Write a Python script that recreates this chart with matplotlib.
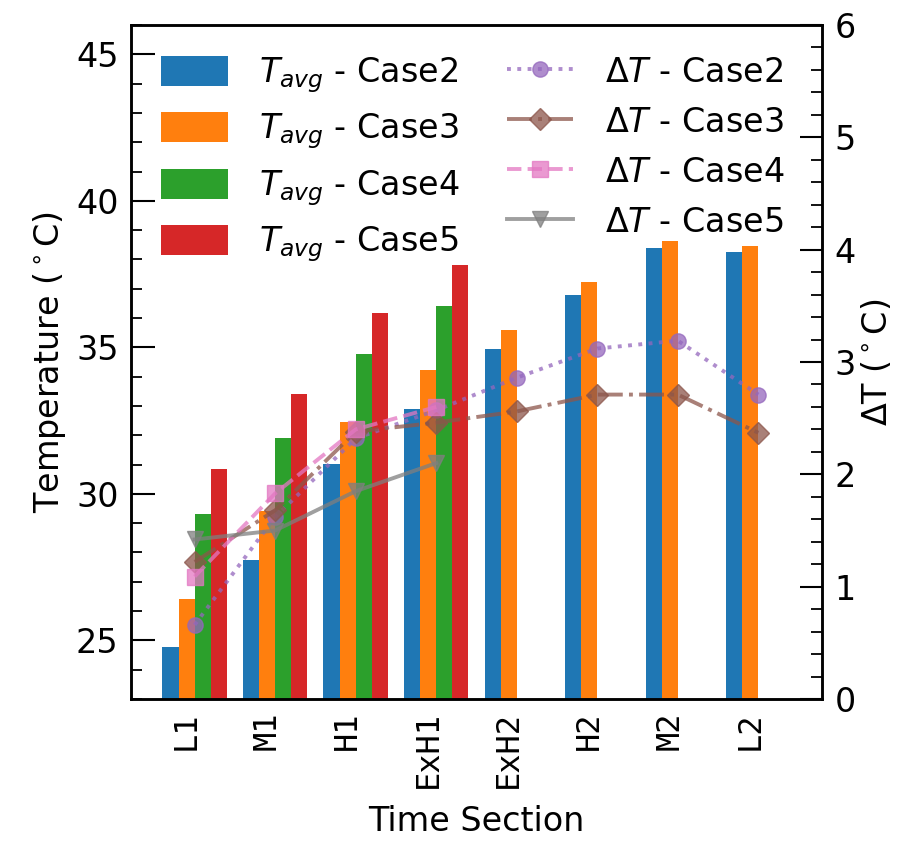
import numpy as np
import matplotlib
matplotlib.use("Agg")
import matplotlib.pyplot as plt
from matplotlib.ticker import MultipleLocator

plt.rcParams['font.family'] = ['DejaVu Sans']
plt.rcParams['mathtext.fontset'] = 'dejavusans'

sections = ["L1", "M1", "H1", "ExH1", "ExH2", "H2", "M2", "L2"]

# Average temperature per case (degC); cases 4 and 5 stop after ExH1
tavg_case2 = [24.77, 27.75, 31.01, 32.88, 34.95, 36.80, 38.40, 38.25]
tavg_case3 = [26.40, 29.42, 32.44, 34.24, 35.60, 37.23, 38.62, 38.46]
tavg_case4 = [29.32, 31.90, 34.78, 36.41, np.nan, np.nan, np.nan, np.nan]
tavg_case5 = [30.84, 33.42, 36.17, 37.80, np.nan, np.nan, np.nan, np.nan]

# Temperature difference per case (degC)
dT_case2 = [0.66, 1.62, 2.32, 2.57, 2.86, 3.12, 3.19, 2.71]
dT_case3 = [1.22, 1.68, 2.38, 2.46, 2.56, 2.71, 2.71, 2.37]
dT_case4 = [1.09, 1.83, 2.40, 2.60, np.nan, np.nan, np.nan, np.nan]
dT_case5 = [1.42, 1.50, 1.85, 2.10, np.nan, np.nan, np.nan, np.nan]

case_names = ["Case2", "Case3", "Case4", "Case5"]
bar_colors = ["tab:blue", "tab:orange", "tab:green", "tab:red"]
line_colors = ["tab:purple", "tab:brown", "tab:pink", "tab:gray"]
line_styles = [":", "-.", "--", "-"]
markers = ["o", "D", "s", "v"]

FS = 24
fig = plt.figure(figsize=(8.99, 8.51), dpi=100)
ax = fig.add_axes([131 / 899, 1 - 699 / 851, 691 / 899, 674 / 851])
ax2 = ax.twinx()

x = np.arange(len(sections))
w = 0.2
handles = []
for i, (vals, c, name) in enumerate(zip([tavg_case2, tavg_case3, tavg_case4, tavg_case5],
                                         bar_colors, case_names)):
    h = ax.bar(x + (i - 1) * w, vals, width=w, color=c,
               label=r"$T_{avg}$ - " + name)
    handles.append(h)

for vals, c, ls, m, name in zip([dT_case2, dT_case3, dT_case4, dT_case5],
                                line_colors, line_styles, markers, case_names):
    h, = ax2.plot(x + 0.1, vals, color=c, ls=ls, marker=m, lw=2.8, ms=11,
                  alpha=0.75, label=r"$\Delta T$ - " + name)
    handles.append(h)

ax.set_xlim(-0.69, 7.89)
ax.set_ylim(23, 46)
ax2.set_ylim(0, 6)

ax.set_xticks(x)
ax.set_xticklabels(sections, rotation=90, fontsize=23, family='DejaVu Sans Mono')
ax.tick_params(axis='x', length=0, pad=9)
ax.yaxis.set_major_locator(MultipleLocator(5))
ax.yaxis.set_minor_locator(MultipleLocator(1))
ax.tick_params(axis='y', which='major', direction='in', length=17, width=1.5,
               labelsize=FS, pad=9)
ax.tick_params(axis='y', which='minor', direction='in', length=8, width=1.3)
ax2.yaxis.set_major_locator(MultipleLocator(1))
ax2.yaxis.set_minor_locator(MultipleLocator(0.2))
ax2.tick_params(axis='y', which='major', direction='in', length=16, width=1.5,
                labelsize=FS, pad=9)
ax2.tick_params(axis='y', which='minor', direction='in', length=8, width=1.3)

for a in (ax, ax2):
    for s in a.spines.values():
        s.set_linewidth(1.8)

ax.set_xlabel("Time Section", fontsize=FS, labelpad=12)
ax.set_ylabel(r"Temperature ($^\circ$C)", fontsize=FS, labelpad=6)
ax2.set_ylabel(r"$\Delta$T ($^\circ$C)", fontsize=FS, labelpad=3)

ax2.legend(handles=handles, loc="upper left", ncol=2, frameon=False,
           fontsize=FS, columnspacing=1.4, handletextpad=0.95,
           handleheight=1.0, labelspacing=0.5)

fig.savefig("out.png", dpi=100)
